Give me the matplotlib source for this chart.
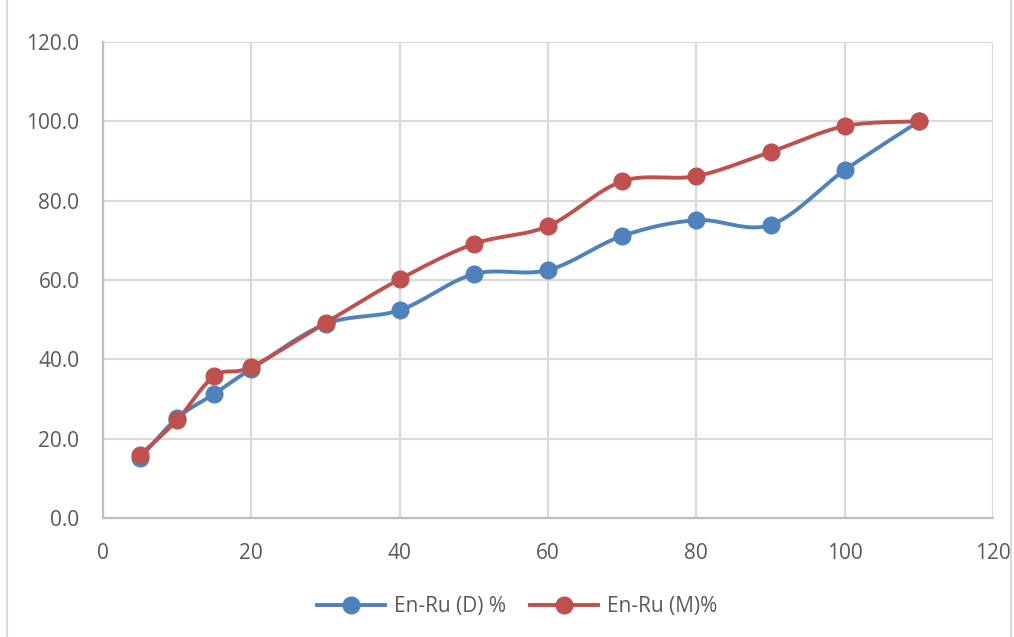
import numpy as np
import matplotlib.pyplot as plt
from matplotlib.patches import Rectangle

x = [5, 10, 15, 20, 30, 40, 50, 60, 70, 80, 90, 100, 110]
d_pct = [15.1, 25.2, 31.3, 37.6, 48.9, 52.4, 61.5, 62.5, 71.1, 75.1, 73.9, 87.7, 100.0]
m_pct = [15.9, 24.7, 35.8, 38.1, 49.2, 60.2, 69.1, 73.6, 84.9, 86.2, 92.3, 98.8, 100.0]
labels = ["En-Ru (D) %", "En-Ru (M)%"]
colors = ["#4f81bd", "#c0504d"]


def smooth(xs, ys, n=30):
    # Excel-style smoothed line: cubic Bezier with Catmull-Rom control points
    p = np.column_stack([xs, ys]).astype(float)
    p = np.vstack([p[0], p, p[-1]])
    out = []
    t = np.linspace(0, 1, n)[:, None]
    for i in range(1, len(p) - 2):
        p0, p1, p2, p3 = p[i - 1], p[i], p[i + 1], p[i + 2]
        c1 = p1 + (p2 - p0) / 6
        c2 = p2 - (p3 - p1) / 6
        seg = ((1 - t) ** 3) * p1 + 3 * ((1 - t) ** 2) * t * c1 + 3 * (1 - t) * t ** 2 * c2 + t ** 3 * p2
        out.append(seg)
    out = np.vstack(out)
    return out[:, 0], out[:, 1]


plt.rcParams["font.family"] = ["Open Sans", "DejaVu Sans"]
fig = plt.figure(figsize=(10.14, 6.37), dpi=100)
ax = fig.add_axes([0.1016, 0.1868, 0.8777, 0.7472])

for ys, lab, c in zip([d_pct, m_pct], labels, colors):
    sx, sy = smooth(x, ys)
    ax.plot(sx, sy, color=c, lw=2.8, solid_capstyle="round", zorder=3)
    ax.plot(x, ys, "o", color=c, ms=12, zorder=4)
    ax.plot([], [], "-o", color=c, lw=2.8, ms=12, label=lab)

ax.set_xlim(0, 120)
ax.set_ylim(0, 120)
ax.set_xticks(np.arange(0, 121, 20))
ax.set_yticks(np.arange(0, 121, 20))
ax.set_yticklabels([f"{v:.1f}" for v in np.arange(0, 121, 20)])
ax.grid(True, color="#d9d9d9", lw=1.6)
ax.set_axisbelow(True)
for s in ["top", "right"]:
    ax.spines[s].set_visible(False)
for s in ["left", "bottom"]:
    ax.spines[s].set_color("#bfbfbf")
    ax.spines[s].set_linewidth(1.6)
ax.tick_params(length=0, labelsize=15, colors="#595959")
ax.tick_params(axis="x", pad=18)
ax.tick_params(axis="y", pad=17)

leg = ax.legend(loc="upper center", bbox_to_anchor=(0.465, -0.125), ncol=2, frameon=False,
                fontsize=15, handlelength=3.3, columnspacing=1.15, handletextpad=0.4)
for t in leg.get_texts():
    t.set_color("#595959")

fig.patches.append(Rectangle((0.007, -0.01), 0.99, 1.02, transform=fig.transFigure,
                             fill=False, edgecolor="#d9d9d9", lw=1.5))

fig.savefig("out.png", dpi=100)
